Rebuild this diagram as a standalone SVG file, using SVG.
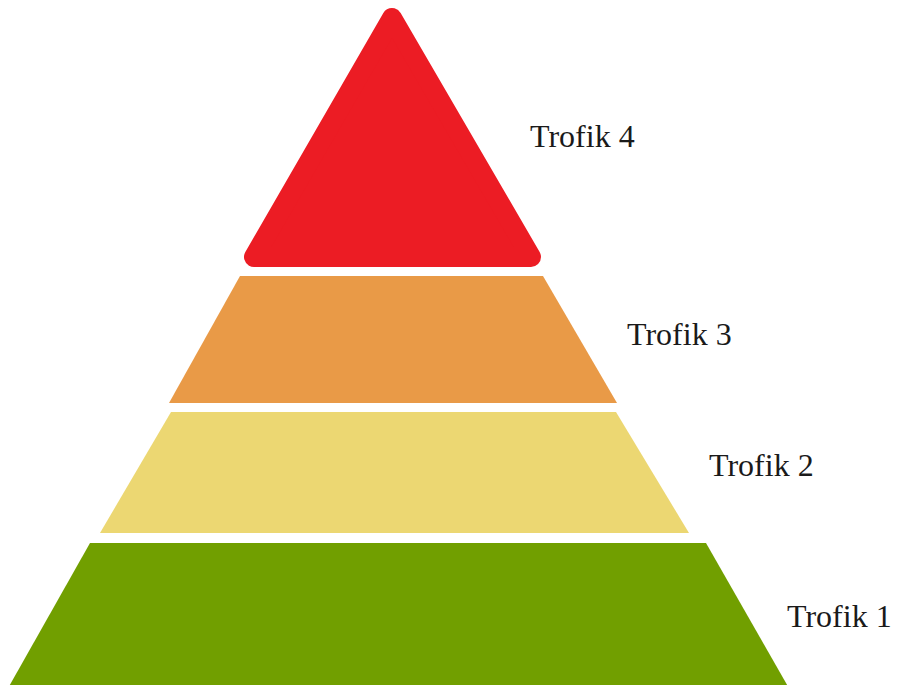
<svg xmlns="http://www.w3.org/2000/svg" width="897" height="685" viewBox="0 0 897 685">
<style>
  .lbl { font-family: "Liberation Serif", "Times New Roman", serif; font-size: 32px; fill: #1a1a1a; }
</style>
<rect x="0" y="0" width="897" height="685" fill="#ffffff"/>
<g id="level4">
  <polygon points="392,18 254,257 531,257" fill="#ec1c24" stroke="#ec1c24" stroke-width="20" stroke-linejoin="round"/>
</g>
<g id="level3">
  <polygon points="240,276 543,276 617,403 169,403" fill="#e99a47"/>
</g>
<g id="level2">
  <polygon points="171,412 616,412 689,533 100,533" fill="#ecd772"/>
</g>
<g id="level1">
  <polygon points="90,543 706,543 790,690 7,690" fill="#719f00"/>
</g>
<g id="labels">
  <text class="lbl" x="530" y="147">Trofik 4</text>
  <text class="lbl" x="627" y="345">Trofik 3</text>
  <text class="lbl" x="709" y="476">Trofik 2</text>
  <text class="lbl" x="787" y="627">Trofik 1</text>
</g>
<g id="connectors"></g>
</svg>
